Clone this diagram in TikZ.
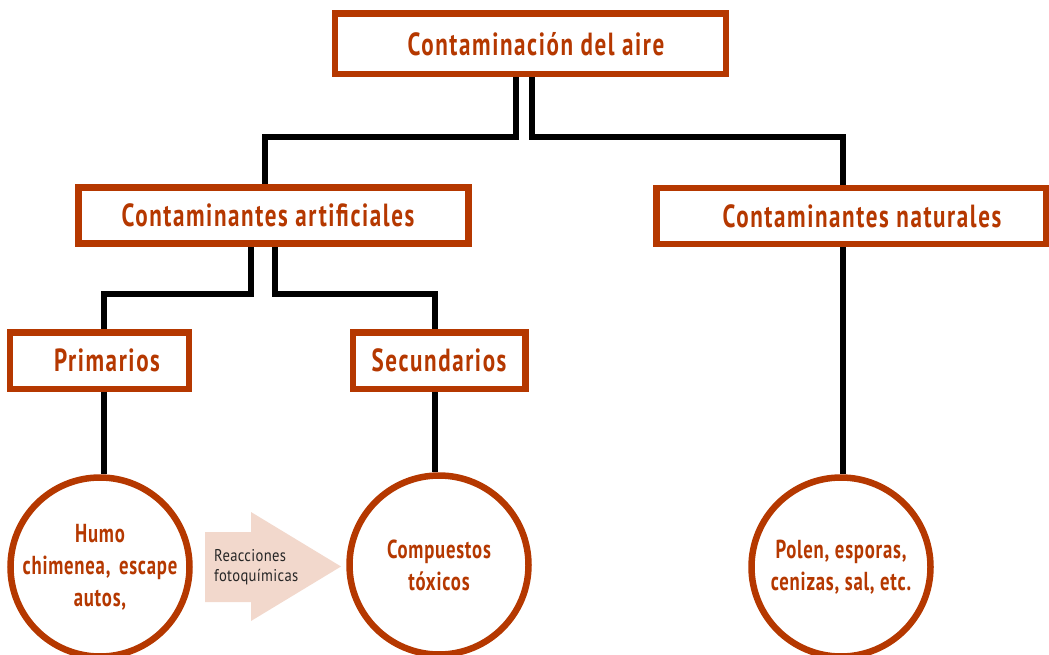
\documentclass[tikz,border=0pt]{standalone}
\usepackage{fontspec}
\newfontfamily\dinfont{PT Sans}[FakeStretch=0.72,LetterSpace=5]
\newfontfamily\roundfont{PT Sans}[FakeStretch=0.72,LetterSpace=3]
\newfontfamily\thinfont{PT Sans}[FakeStretch=0.86,LetterSpace=2]
\definecolor{rust}{RGB}{181,56,0}
\definecolor{peach}{RGB}{242,216,204}

\begin{document}
\begin{tikzpicture}[x=1pt,y=-1pt,
    box/.style={draw=rust,line width=6.5pt,fill=white,inner sep=0pt,
        minimum height=56pt,text=rust,font=\dinfont\bfseries\fontsize{32}{34}\selectfont},
    bubble/.style={circle,draw=rust,line width=6.5pt,fill=white,minimum size=179pt,
        inner sep=0pt,align=center,text=rust,font=\roundfont\bfseries\fontsize{26}{32}\selectfont},
    link/.style={line width=6pt}]
    \useasboundingbox (0,0) rectangle (1049,655);

    \node[box,minimum width=391pt,minimum height=60.5pt] (aire) at (530.5,44) {\hspace*{11pt}Contaminación del aire};
    \node[box,minimum width=390pt] (artif) at (273.5,215.5) {\hspace*{-11pt}Contaminantes artificiales};
    \node[box,minimum width=389.5pt] (natur) at (851,216) {\hspace*{22pt}Contaminantes naturales};
    \node[box,minimum width=179pt,minimum height=56.5pt] (prim) at (99.5,360.75) {\hspace*{15pt}Primarios};
    \node[box,minimum width=172.5pt,minimum height=56.5pt] (secun) at (439,360.75) {Secundarios};

    \node[bubble] (humo) at (100,567) {Humo\\chimenea,\hspace{3pt} escape\\autos,};
    \node[bubble] (toxic) at (439,565) {Compuestos\\tóxicos};
    \node[bubble] (polen) at (841,567) {Polen, esporas,\\cenizas, sal, etc.};

    \fill[peach] (205,532) -- (251,532) -- (251,512) -- (341,566.5)
        -- (251,621) -- (251,602) -- (205,602) -- cycle;
    \node[anchor=west,align=left,inner sep=0pt,text=black!85,
        font=\thinfont\fontsize{17}{20}\selectfont] (react) at (214,567) {Reacciones\\fotoquímicas};

    \draw[link] ([xshift=-15pt]aire.south) |- ([xshift=-8.5pt,yshift=47.25pt]artif.north)
        -- ([xshift=-8.5pt]artif.north);
    \draw[link] ([xshift=1.5pt]aire.south) |- ([xshift=-8pt,yshift=47.75pt]natur.north)
        -- ([xshift=-8pt]natur.north);
    \draw[link] ([xshift=-23pt]artif.south) |- ([xshift=4pt,yshift=35.25pt]prim.north)
        -- ([xshift=4pt]prim.north);
    \draw[link] ([xshift=1.5pt]artif.south) |- ([xshift=-4pt,yshift=35.25pt]secun.north)
        -- ([xshift=-4pt]secun.north);
    \draw[link] ([xshift=4pt]prim.south) -- ([xshift=4pt]prim.south |- humo.north);
    \draw[link] ([xshift=-4pt]secun.south) -- ([xshift=-4pt]secun.south |- toxic.north);
    \draw[link] ([xshift=-8pt]natur.south) -- ([xshift=-8pt]natur.south |- polen.north);
\end{tikzpicture}
\end{document}
